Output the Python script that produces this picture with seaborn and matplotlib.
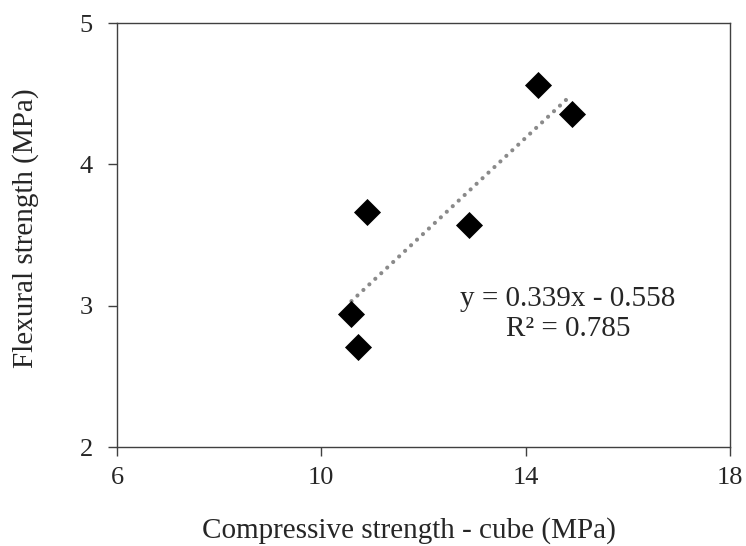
import numpy as np
import pandas as pd
import matplotlib
matplotlib.use("Agg")
import matplotlib.pyplot as plt
import seaborn as sns

# Measured specimen results
compressive = [14.24, 14.90, 10.90, 12.89, 10.59, 10.72]   # MPa, cube
flexural = [4.56, 4.355, 3.66, 3.57, 2.94, 2.71]           # MPa

# Linear trendline coefficients and fit quality
slope = 0.339
intercept = -0.558
r_squared = 0.785

x_ticks = [6, 10, 14, 18]
y_ticks = [2, 3, 4, 5]

df = pd.DataFrame({"compressive": compressive, "flexural": flexural})

sns.set_style("white")
plt.rcParams["font.family"] = ["Liberation Serif", "DejaVu Serif"]

fig = plt.figure(figsize=(7.46, 5.46), dpi=100)
ax = fig.add_axes([117 / 746, 1 - 447 / 546, (730 - 117) / 746, (447 - 23) / 546])

# Trendline across the range of the data
xs = np.array([min(compressive), max(compressive)])
ax.plot(xs, slope * xs + intercept, color="#8a8a8a", linewidth=3.0,
        linestyle=(0, (0.01, 1.95)), dash_capstyle="round", zorder=2)

sns.scatterplot(data=df, x="compressive", y="flexural", marker="D", s=190,
                color="black", edgecolor="black", linewidth=0, ax=ax, zorder=3)

ax.set_xlim(6, 18)
ax.set_ylim(2, 5)
ax.set_xticks(x_ticks)
ax.set_yticks(y_ticks)
ax.set_xticklabels([str(v) for v in x_ticks])
ax.set_yticklabels([str(v) for v in y_ticks])

for side in ["left", "right", "top", "bottom"]:
    ax.spines[side].set_visible(True)
    ax.spines[side].set_color("#404040")
    ax.spines[side].set_linewidth(1.0)

ax.tick_params(axis="both", which="major", direction="out", length=6.5,
               width=1.0, color="#404040", labelsize=19, labelcolor="#262626")
ax.tick_params(axis="x", pad=8)
ax.tick_params(axis="y", pad=11)
ax.tick_params(left=True, bottom=True, right=False, top=False)

ax.set_xlabel("Compressive strength - cube (MPa)", fontsize=21, color="#262626")
ax.xaxis.set_label_coords(0.477, -0.214)
ax.xaxis.label.set_verticalalignment("baseline")

ax.set_ylabel("Flexural strength (MPa)", fontsize=21, color="#262626")
ax.yaxis.set_label_coords(-0.150, 0.516)
ax.yaxis.label.set_verticalalignment("center")

eq_sign = "-" if intercept < 0 else "+"
ax.text(14.83, 3.0, f"y = {slope:.3f}x {eq_sign} {abs(intercept):.3f}",
        ha="center", va="baseline", fontsize=21, color="#262626")
ax.text(14.83, 2.787, f"R\u00b2 = {r_squared:.3f}",
        ha="center", va="baseline", fontsize=21, color="#262626")

fig.savefig("out.png", dpi=100)
